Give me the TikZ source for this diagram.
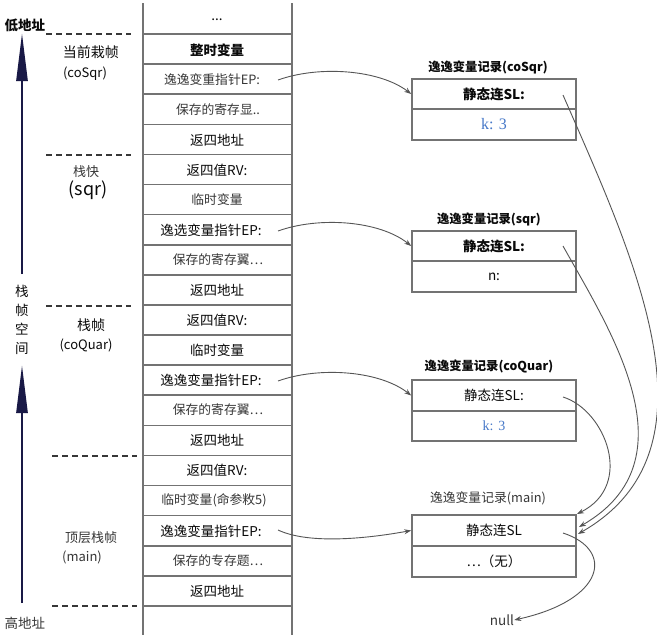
\documentclass[tikz,border=0pt]{standalone}
\usepackage{fontspec}
\setmainfont{Noto Sans CJK SC}
\newfontfamily\serifk{Liberation Serif}
\usetikzlibrary{arrows.meta}
\definecolor{lineg}{RGB}{115,115,115}
\definecolor{txt}{RGB}{10,10,10}
\definecolor{soft}{RGB}{55,55,55}
\definecolor{wireg}{RGB}{85,85,85}
\definecolor{kblue}{RGB}{70,120,200}
\definecolor{navy}{RGB}{25,25,70}
\begin{document}
\begin{tikzpicture}[x=1pt,y=-1pt,
  cell/.style={font=\fontsize{13.5}{15}\selectfont, text=txt, inner sep=0pt},
  scell/.style={font=\fontsize{12.8}{15}\selectfont, text=soft, inner sep=0pt},
  lbl/.style={font=\fontsize{14}{16}\selectfont, text=txt, inner sep=0pt},
  rowbox/.style={draw=lineg, line width=1.6pt, minimum width=164pt, minimum height=30.5pt, inner sep=0pt, font=\fontsize{13.5}{15}\selectfont, text=txt},
  rtitle/.style={font=\fontsize{12.3}{14}\selectfont, text=txt, inner sep=0pt},
  sepline/.style={draw=lineg, line width=1.6pt},
  frameline/.style={draw=soft, line width=2.2pt, dash pattern=on 6pt off 4pt},
  wire/.style={draw=wireg, line width=0.9pt, -{Stealth[length=7pt,width=5pt]}},
  bigarrow/.style={draw=navy, line width=2.6pt, -{Triangle[length=48pt,width=11pt]}}
]
\useasboundingbox (0,0) rectangle (657,640);
\fill[white] (0,0) rectangle (657,640);

% stack column
\draw[sepline] (143,3) -- (143,635);
\draw[sepline] (292,3) -- (292,635);
\foreach \i in {0,...,19} \draw[sepline] (143,{34+30.1*\i}) -- (292,{34+30.1*\i});

\node[cell] (c0) at (217,20) {...};
\node[cell] (c1) at (217,50) {\bfseries 整时变量};
\node[scell] (c2) at (212,80) {逸逸变重指针EP:};
\node[scell] (c3) at (218,110) {保存的寄存显..};
\node[cell] (c4) at (217,140) {返四地址};
\node[cell] (c5) at (217,170) {返四值RV:};
\node[scell] (c6) at (217,200) {临时变量};
\node[cell] (c7) at (211,230) {逸选变量指针EP:};
\node[scell] (c8) at (218,260) {保存的寄存翼…};
\node[cell] (c9) at (217,290) {返四地址};
\node[cell] (c10) at (217,320) {返四值RV:};
\node[cell] (c11) at (217,350) {临时变量};
\node[cell] (c12) at (211,380) {逸逸变量指针EP:};
\node[scell] (c13) at (218,410) {保存的寄存翼…};
\node[cell] (c14) at (217,440) {返四地址};
\node[cell] (c15) at (217,470) {返四值RV:};
\node[scell] (c16) at (214,500) {临时变量(命参敉5)};
\node[cell] (c17) at (211,531) {逸逸变量指针EP:};
\node[scell] (c18) at (218,561) {保存的专存题…};
\node[cell] (c19) at (217,591) {返四地址};

% frame separators
\draw[frameline] (46,34) -- (131,34);
\draw[frameline] (46,155) -- (131,155);
\draw[frameline] (46,306) -- (131,306);
\draw[frameline] (52,456) -- (137,456);
\draw[frameline] (52,606) -- (137,606);

% frame labels
\node[lbl] (f1a) at (91,52) {当前栽帧};
\node[lbl, font=\fontsize{13}{15}\selectfont] (f1b) at (85,74) {(coSqr)};
\node[scell, font=\fontsize{13}{15}\selectfont] (f2a) at (86,172) {栈快};
\node[lbl, font=\fontsize{18}{20}\selectfont] (f2b) at (88,190) {(sqr)};
\node[lbl] (f3a) at (91,325) {栈帧};
\node[lbl, font=\fontsize{13}{15}\selectfont] (f3b) at (86,345) {(coQuar)};
\node[scell, font=\fontsize{13}{15}\selectfont] (f4a) at (91,538) {顶层栈帧};
\node[scell, font=\fontsize{13}{15}\selectfont] (f4b) at (82,557) {(main)};

% address axis
\node[lbl, font=\fontsize{13.5}{15}\selectfont\bfseries] (low) at (25,25) {低地址};
\node[scell, font=\fontsize{13.5}{15}\selectfont] (high) at (25,623) {高地址};
\node[lbl, align=center, font=\fontsize{13.5}{19}\selectfont] (space) at (22,320) {栈\\帧\\空\\间};
\coordinate (a0) at (22,603);
\coordinate (a1) at (22,365);
\coordinate (a2) at (22,274);
\coordinate (a3) at (22,33);
\draw[bigarrow] (a0) -- (a1);
\draw[bigarrow] (a2) -- (a3);

% records
\node[rtitle] (t1) at (488,67) {\bfseries 逸逸变量记录(coSqr)};
\node[rowbox] (r1a) at (494,94) {\bfseries 静态连SL:};
\node[rowbox] (r1b) at (494,124.5) {\serifk\fontsize{16}{17}\selectfont\color{kblue} k: 3};

\node[rtitle] (t2) at (489,219) {\bfseries 逸逸变量记录(sqr)};
\node[rowbox] (r2a) at (494,246) {\bfseries 静态连SL:};
\node[rowbox] (r2b) at (494,276.5) {n:};

\node[rtitle] (t3) at (489,366) {\bfseries 逸逸变量记录(coQuar)};
\node[rowbox] (r3a) at (494,395.5) {静态连SL:};
\node[rowbox] (r3b) at (494,426) {\serifk\fontsize{14}{15}\selectfont\color{kblue} k: 3};

\node[rtitle, text=soft, font=\fontsize{12.8}{14}\selectfont] (t4) at (488,498) {逸逸变量记录(main)};
\node[rowbox] (r4a) at (494,530.5) {静态连SL};
\node[rowbox] (r4b) at (494,561.5) {…（无）};

\node[cell, text=soft, font=\fontsize{13.5}{15}\selectfont] (null) at (502,620) {null};

% EP connectors
\coordinate (ep1) at (278,80);
\coordinate (ep2) at (278,231);
\coordinate (ep3) at (278,381);
\coordinate (ep4) at (278,530);
\draw[wire] (ep1) .. controls (320,65) and (380,70) .. (r1a.west);
\draw[wire] (ep2) .. controls (320,216) and (380,221) .. (r2a.west);
\draw[wire] (ep3) .. controls (320,366) and (380,371) .. (r3a.west);
\draw[wire] (ep4) .. controls (310,545) and (370,538) .. (r4a.west);

% SL connectors
\coordinate (s1) at (563,95);
\coordinate (s2) at (563,246);
\coordinate (s3) at (563,397);
\coordinate (s4) at (563,533);
\coordinate (e1) at (578,534);
\coordinate (e2) at (579,527);
\coordinate (e3) at (577,514);
\draw[wire] (s1) .. controls (635,260) and (725,450) .. (e1);
\draw[wire] (s2) .. controls (610,330) and (695,460) .. (e2);
\draw[wire] (s3) .. controls (605,410) and (635,485) .. (e3);
\draw[wire] (s4) .. controls (615,550) and (605,600) .. (null.east);
\end{tikzpicture}
\end{document}
